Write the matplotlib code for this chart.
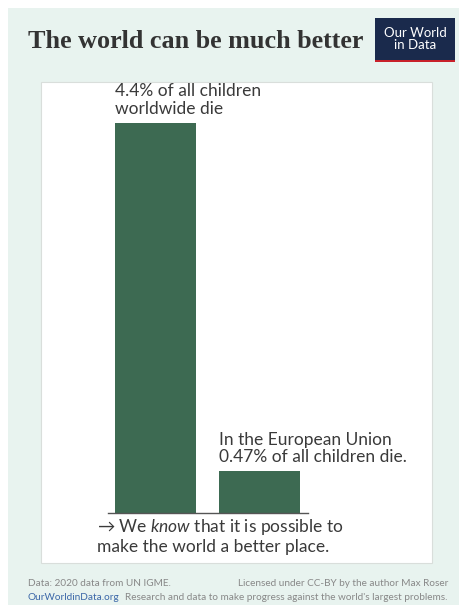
import matplotlib.pyplot as plt
from matplotlib.patches import Rectangle

# Data
labels = ['4.4% of all children\nworldwide die', 'In the European Union\n0.47% of all children die.']
values = [4.4, 0.47]

W, H = 460, 605
fig = plt.figure(figsize=(W / 100, H / 100), dpi=100)
fig.patch.set_facecolor('white')

plt.rcParams['mathtext.fontset'] = 'custom'
plt.rcParams['mathtext.it'] = 'Lato:italic'
plt.rcParams['mathtext.rm'] = 'Lato'

def fx(px):
    return px / W

def fy(py):
    return 1 - py / H

# mint background panel
fig.patches.append(Rectangle((fx(8), fy(605)), fx(452), 597 / H, transform=fig.transFigure,
                             facecolor='#e8f3ef', edgecolor='none', zorder=0))
# white chart panel
fig.patches.append(Rectangle((fx(41), fy(563)), fx(391), 481 / H, transform=fig.transFigure,
                             facecolor='white', edgecolor='#d9dedb', lw=0.8, zorder=1))

# title
fig.text(fx(28), fy(42), 'The world can be much better', fontsize=18.8, fontweight='bold',
         family='Liberation Serif', color='#333333', va='center', ha='left')

# logo
fig.patches.append(Rectangle((fx(375), fy(60)), fx(80), 42 / H, transform=fig.transFigure,
                             facecolor='#1a2a4c', edgecolor='none', zorder=2))
fig.patches.append(Rectangle((fx(375), fy(62)), fx(80), 2 / H, transform=fig.transFigure,
                             facecolor='#c8202a', edgecolor='none', zorder=2))
fig.text(fx(415), fy(39), 'Our World\nin Data', fontsize=9.5, family='Lato', color='white',
         ha='center', va='center', linespacing=1.05, zorder=3)

# bar axes
ax = fig.add_axes([fx(108), fy(513), fx(200), 390 / H])
ax.set_zorder(5)
ax.set_facecolor('none')
ax.bar([0, 1], values, width=0.78, color='#3d6a52')
ax.set_xlim(-0.457, 1.466)
ax.set_ylim(0, 4.4)
for s in ['top', 'right', 'left']:
    ax.spines[s].set_visible(False)
ax.spines['bottom'].set_color('#555555')
ax.spines['bottom'].set_linewidth(1.0)
ax.set_xticks([])
ax.set_yticks([])

# labels above bars
for i, (lab, v) in enumerate(zip(labels, values)):
    ax.text(i - 0.39, v + 0.07, lab, fontsize=12.5, family='Lato', color='#3a3a3a',
            ha='left', va='bottom', linespacing=1.12, clip_on=False)

# bottom note
fig.text(fx(97), fy(527), '→ We $\\mathit{know}$ that it is possible to', fontsize=12.5,
         family=['Lato', 'DejaVu Sans'], color='#3a3a3a', va='center', ha='left', zorder=6)
fig.text(fx(97), fy(547), 'make the world a better place.', fontsize=12.5, family='Lato',
         color='#3a3a3a', va='center', ha='left', zorder=6)

# footer
fig.text(fx(28), fy(583), 'Data: 2020 data from UN IGME.', fontsize=7.2, family='Lato',
         color='#888888', va='center', ha='left')
fig.text(fx(448), fy(583), 'Licensed under CC-BY by the author Max Roser', fontsize=7.2,
         family='Lato', color='#888888', va='center', ha='right')
fig.text(fx(28), fy(598), 'OurWorldinData.org', fontsize=7.2, family='Lato', color='#3b67a8',
         va='center', ha='left')
fig.text(fx(448), fy(598), "Research and data to make progress against the world's largest problems.",
         fontsize=7.2, family='Lato', color='#888888', va='center', ha='right')

fig.savefig('out.png', dpi=100)
